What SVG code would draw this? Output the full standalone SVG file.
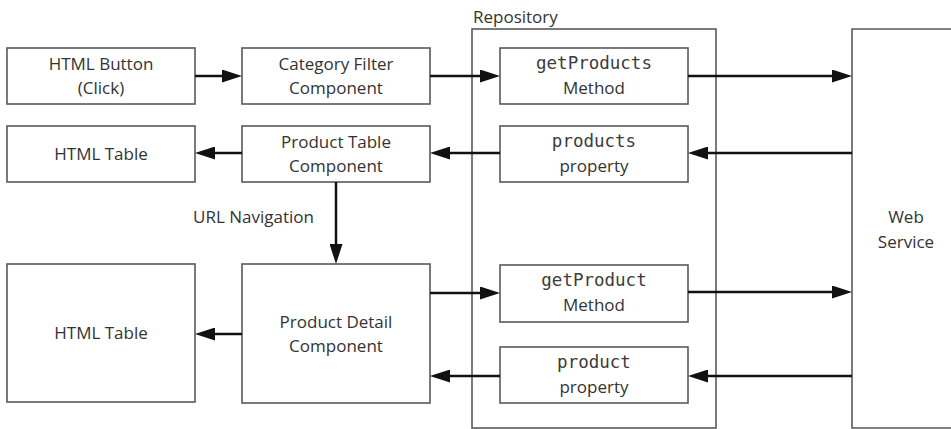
<svg xmlns="http://www.w3.org/2000/svg" width="951" height="429" viewBox="0 0 951 429">
<style>
.box{fill:#fff;stroke:#595959;stroke-width:1.6}
.t{font-family:"Open Sans","Liberation Sans",sans-serif;font-size:17px;fill:#333;text-anchor:middle}
.m{font-family:"DejaVu Sans Mono","Liberation Mono",monospace;font-size:17.5px;fill:#3c3c3c;text-anchor:middle}
.l{font-family:"Open Sans","Liberation Sans",sans-serif;font-size:17px;fill:#333}
.c{fill:none;stroke:#111;stroke-width:2.5}
</style>
<defs>
<marker id="ah" viewBox="0 0 20 13" refX="0" refY="6.5" markerWidth="20" markerHeight="13" markerUnits="userSpaceOnUse" orient="auto">
<path d="M0,0 L20,6.5 L0,13 Z" fill="#111"/>
</marker>
</defs>
<rect width="951" height="429" fill="#fff"/>
<g id="repository">
<rect class="box" x="472" y="29" width="244" height="399"/>
<text class="l" x="473" y="23">Repository</text>
</g>
<g id="webservice">
<path class="box" d="M960,29 H852 V428 H960"/>
<text class="t" x="906" y="223">Web</text>
<text class="t" x="906" y="248">Service</text>
</g>
<g id="htmlbutton">
<rect class="box" x="7" y="48" width="188" height="56"/>
<text class="t" x="101" y="70">HTML Button</text>
<text class="t" x="101" y="94">(Click)</text>
</g>
<g id="categoryfilter">
<rect class="box" x="242" y="48" width="188" height="56"/>
<text class="t" x="336" y="70">Category Filter</text>
<text class="t" x="336" y="94">Component</text>
</g>
<g id="htmltable1">
<rect class="box" x="7" y="126" width="188" height="56"/>
<text class="t" x="101" y="160">HTML Table</text>
</g>
<g id="producttable">
<rect class="box" x="242" y="126" width="188" height="56"/>
<text class="t" x="336" y="148">Product Table</text>
<text class="t" x="336" y="172">Component</text>
</g>
<g id="htmltable2">
<rect class="box" x="7" y="264" width="188" height="138"/>
<text class="t" x="101" y="339">HTML Table</text>
</g>
<g id="productdetail">
<rect class="box" x="242" y="264" width="188" height="139"/>
<text class="t" x="336" y="328">Product Detail</text>
<text class="t" x="336" y="352">Component</text>
</g>
<g id="getproducts">
<rect class="box" x="500" y="48" width="188" height="56"/>
<text class="m" x="594" y="69">getProducts</text>
<text class="t" x="594" y="94">Method</text>
</g>
<g id="productsprop">
<rect class="box" x="500" y="126" width="188" height="56"/>
<text class="m" x="594" y="147">products</text>
<text class="t" x="594" y="172">property</text>
</g>
<g id="getproduct">
<rect class="box" x="500" y="265" width="188" height="57"/>
<text class="m" x="594" y="286">getProduct</text>
<text class="t" x="594" y="311">Method</text>
</g>
<g id="productprop">
<rect class="box" x="500" y="347" width="188" height="56"/>
<text class="m" x="594" y="368">product</text>
<text class="t" x="594" y="393">property</text>
</g>
<g id="connectors">
<line class="c" x1="195" y1="76" x2="222" y2="76" marker-end="url(#ah)"/>
<line class="c" x1="430" y1="76" x2="480" y2="76" marker-end="url(#ah)"/>
<line class="c" x1="688" y1="76" x2="832" y2="76" marker-end="url(#ah)"/>
<line class="c" x1="852" y1="153" x2="708" y2="153" marker-end="url(#ah)"/>
<line class="c" x1="500" y1="153" x2="450" y2="153" marker-end="url(#ah)"/>
<line class="c" x1="242" y1="153" x2="215" y2="153" marker-end="url(#ah)"/>
<line class="c" x1="336" y1="182" x2="336" y2="244" marker-end="url(#ah)"/>
<text class="l" x="193" y="223">URL Navigation</text>
<line class="c" x1="242" y1="334" x2="215" y2="334" marker-end="url(#ah)"/>
<line class="c" x1="430" y1="293" x2="480" y2="293" marker-end="url(#ah)"/>
<line class="c" x1="688" y1="292" x2="832" y2="292" marker-end="url(#ah)"/>
<line class="c" x1="852" y1="376" x2="708" y2="376" marker-end="url(#ah)"/>
<line class="c" x1="500" y1="376" x2="450" y2="376" marker-end="url(#ah)"/>
</g>
</svg>
